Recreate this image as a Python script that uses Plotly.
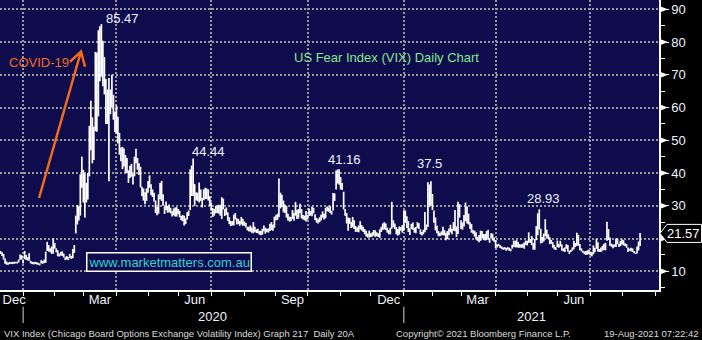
import pandas as pd
import plotly.graph_objects as go

# ---------------- data ----------------
holidays = ["2019-12-25", "2020-01-01", "2020-01-20", "2020-02-17", "2020-04-10",
            "2020-05-25", "2020-07-03", "2020-09-07", "2020-11-26", "2020-12-25",
            "2021-01-01", "2021-01-18", "2021-02-15", "2021-04-02", "2021-05-31",
            "2021-07-05"]
first_day = "2019-12-10"
last_day = "2021-08-18"

# daily high of the VIX, one line per month
high = [
    16.2, 15.8, 15.3, 13.9, 13.0, 12.6, 12.9, 12.8, 12.9, 12.9, 12.9, 12.9, 13.6, 15.1, 14.9,  # Dec 19
    13.6, 16.2, 15.0, 14.3, 15.5, 13.2, 12.9, 12.8, 12.9, 12.8, 12.6, 12.4, 13.4, 13.1, 13.6, 16.0, 19.0, 18.0, 17.0, 17.6, 20.0,  # Jan 20
    18.6, 17.0, 16.4, 15.4, 15.9, 16.1, 15.4, 14.3, 14.7, 14.3, 15.3, 14.7, 16.8, 18.0, 27.0, 30.2, 30.0, 39.6, 45.0,  # Feb
    41.0, 39.9, 37.0, 40.0, 54.4, 62.1, 57.0, 54.1, 77.0, 76.8, 83.6, 84.8, 85.47, 80.4, 75.4, 68.7, 65.5, 69.0, 65.5, 70.0, 63.9, 58.8,  # Mar
    60.6, 57.2, 52.3, 47.8, 48.0, 47.5, 45.5, 44.6, 40.8, 42.2, 42.8, 39.8, 45.0, 47.4, 44.6, 43.0, 41.9, 35.8, 35.3, 34.1, 35.3,  # Apr
    37.6, 39.3, 36.6, 35.0, 34.0, 31.6, 29.6, 33.5, 37.0, 37.6, 33.5, 29.8, 31.3, 30.0, 30.4, 29.4, 28.3, 29.2, 29.5, 29.6,  # May
    29.0, 28.5, 26.9, 27.2, 27.0, 26.2, 28.0, 28.6, 41.1, 42.3, 44.44, 36.6, 34.1, 34.0, 37.1, 35.0, 32.4, 35.0, 35.5, 35.3, 35.0, 32.9,  # Jun
    31.0, 29.3, 29.0, 30.0, 30.0, 30.3, 30.3, 32.6, 32.2, 29.0, 29.5, 28.0, 26.5, 25.4, 25.3, 27.3, 27.8, 26.2, 26.0, 25.4, 26.6, 26.0,  # Jul
    25.2, 24.8, 23.6, 23.6, 24.0, 23.4, 25.0, 23.6, 22.8, 23.0, 22.3, 22.4, 23.0, 24.0, 23.3, 23.0, 23.1, 24.5, 25.0, 24.3, 26.7,  # Aug
    27.1, 27.6, 38.3, 34.0, 33.4, 31.6, 30.4, 30.0, 27.6, 26.7, 26.6, 28.7, 27.9, 31.2, 28.8, 29.0, 30.6, 29.0, 27.2, 27.0, 28.4,  # Sep
    27.2, 29.2, 28.4, 29.8, 29.4, 27.4, 26.3, 25.9, 26.5, 27.3, 28.3, 27.6, 29.4, 29.8, 29.5, 30.0, 28.5, 33.9, 33.8, 40.8, 41.1, 41.16,  # Oct
    38.8, 37.0, 34.3, 29.0, 27.8, 26.4, 26.3, 25.1, 26.6, 25.6, 23.8, 23.4, 24.0, 25.3, 24.1, 23.6, 22.9, 22.4, 21.5, 22.4,  # Nov
    21.6, 21.9, 22.6, 22.5, 21.9, 21.6, 22.8, 23.6, 24.6, 25.0, 24.6, 23.3, 22.6, 23.3, 31.2, 25.6, 24.6, 23.5, 22.9, 23.7, 23.5, 24.1,  # Dec
    28.6, 28.6, 26.8, 25.3, 23.1, 24.5, 24.9, 23.3, 23.5, 25.0, 24.7, 22.8, 22.0, 22.7, 28.1, 24.3, 37.2, 36.5, 37.5,  # Jan 21
    33.6, 28.6, 26.4, 23.9, 22.3, 21.8, 22.2, 23.6, 22.6, 21.8, 22.3, 23.1, 24.2, 23.0, 25.0, 28.7, 23.7, 31.2, 30.5,  # Feb
    25.6, 24.9, 27.2, 31.0, 29.8, 27.6, 25.0, 24.4, 22.6, 22.4, 21.9, 20.5, 21.1, 22.4, 22.3, 21.4, 21.4, 22.3, 22.7, 20.1, 21.6, 21.5, 20.3,  # Mar
    19.5, 18.2, 18.4, 18.0, 17.6, 17.3, 17.4, 17.1, 17.4, 17.2, 16.9, 18.1, 19.4, 19.3, 19.5, 18.9, 18.3, 18.2, 18.4, 18.8, 19.4,  # Apr
    19.3, 21.9, 19.8, 20.8, 18.6, 19.9, 23.8, 27.7, 28.93, 23.0, 20.5, 21.5, 25.9, 22.7, 21.3, 20.4, 19.6, 18.9, 18.0, 17.4,  # May
    19.4, 18.3, 19.3, 18.2, 17.0, 17.3, 18.3, 18.0, 16.3, 16.6, 17.3, 19.3, 18.6, 21.8, 21.1, 18.3, 17.0, 16.3, 16.1, 16.2, 16.4, 16.6,  # Jun
    16.0, 15.8, 17.9, 17.1, 19.9, 18.9, 16.8, 17.3, 17.8, 18.4, 18.7, 25.1, 22.9, 20.3, 18.4, 18.2, 18.2, 20.0, 20.0, 18.4, 19.3,  # Jul
    19.8, 19.5, 18.6, 18.3, 17.3, 16.9, 17.2, 17.0, 16.2, 15.7, 17.6, 19.1, 21.7,  # Aug
]

# daily low of the VIX, one line per month
low = [
    15.3, 14.7, 13.6, 12.3, 12.0, 12.0, 12.2, 12.2, 12.2, 12.3, 12.4, 12.4, 12.7, 13.5, 13.6,  # Dec 19
    12.4, 13.7, 13.5, 13.3, 13.2, 12.4, 12.2, 12.1, 12.2, 12.1, 12.0, 11.8, 12.4, 12.3, 12.5, 12.6, 16.2, 16.0, 15.8, 15.3, 15.4,  # Jan 20
    16.9, 15.8, 14.6, 14.5, 14.8, 14.7, 14.2, 13.4, 13.6, 13.4, 14.1, 13.8, 14.0, 15.6, 21.6, 24.3, 25.5, 27.0, 35.5,  # Feb
    31.0, 26.4, 31.0, 31.9, 39.0, 47.0, 43.0, 44.0, 52.8, 52.6, 57.3, 68.0, 69.4, 66.5, 64.0, 55.0, 55.0, 37.5, 58.0, 60.0, 56.3, 52.5,  # Mar
    52.0, 49.0, 45.6, 43.6, 41.2, 42.0, 39.9, 40.0, 37.0, 38.5, 38.9, 36.5, 39.0, 43.0, 41.0, 39.4, 35.6, 32.9, 31.6, 30.5, 31.5,  # Apr
    34.0, 35.5, 33.2, 32.7, 31.3, 27.8, 27.1, 27.6, 32.0, 31.5, 30.0, 27.5, 28.7, 27.9, 28.0, 27.7, 26.7, 27.1, 26.7, 26.7,  # May
    27.4, 26.5, 25.6, 25.3, 24.0, 24.4, 25.8, 26.9, 28.7, 33.0, 33.0, 30.0, 31.7, 31.4, 31.0, 31.5, 29.5, 31.7, 32.0, 32.1, 31.6, 30.0,  # Jun
    28.5, 26.6, 27.0, 27.7, 27.8, 27.6, 27.0, 26.0, 28.9, 26.9, 27.2, 25.4, 24.4, 23.8, 24.0, 24.0, 25.8, 24.3, 24.4, 23.9, 24.3, 23.9,  # Jul
    23.9, 23.4, 22.5, 22.2, 22.1, 21.8, 21.6, 22.0, 21.7, 21.6, 21.2, 21.0, 21.2, 22.2, 21.5, 22.0, 21.8, 22.3, 22.6, 22.4, 23.3,  # Aug
    25.6, 25.7, 26.5, 29.2, 29.6, 28.0, 27.8, 26.4, 25.5, 25.2, 25.3, 26.0, 25.4, 27.0, 26.0, 26.1, 27.7, 26.2, 25.8, 25.6, 25.2,  # Sep
    25.8, 26.9, 27.0, 26.8, 27.7, 25.7, 24.9, 24.6, 25.0, 25.5, 26.4, 25.8, 26.2, 28.3, 28.2, 27.8, 27.3, 28.6, 31.5, 35.0, 36.8, 36.4,  # Oct
    35.0, 34.8, 28.9, 27.0, 24.6, 22.4, 24.5, 23.2, 23.4, 22.9, 22.0, 22.1, 21.9, 22.8, 22.4, 22.0, 21.3, 20.6, 20.3, 20.3,  # Nov
    20.4, 20.6, 20.9, 20.5, 20.7, 20.5, 20.2, 22.0, 22.6, 22.8, 22.6, 21.8, 21.3, 21.3, 23.0, 23.5, 22.9, 21.3, 20.9, 21.2, 22.4, 21.8,  # Dec
    22.4, 24.8, 23.2, 22.0, 21.1, 22.9, 22.7, 21.8, 21.6, 23.2, 22.9, 21.3, 20.9, 21.3, 21.9, 22.6, 23.5, 29.6, 30.0,  # Jan 21
    28.7, 24.8, 22.5, 21.6, 20.7, 20.7, 21.0, 21.0, 20.9, 19.5, 19.8, 21.0, 21.9, 21.3, 22.4, 22.2, 20.5, 21.4, 26.4,  # Feb
    22.9, 22.7, 23.7, 25.3, 24.6, 24.3, 22.9, 21.8, 21.5, 20.6, 19.7, 19.3, 18.9, 19.3, 20.1, 19.6, 19.4, 19.6, 19.7, 18.7, 20.1, 19.4, 19.0,  # Mar
    17.1, 17.3, 17.7, 17.1, 16.8, 16.6, 16.7, 16.3, 16.6, 16.3, 16.1, 16.9, 17.4, 17.3, 17.3, 17.2, 17.2, 17.2, 17.2, 16.9, 18.0,  # Apr
    17.9, 18.7, 18.7, 18.0, 16.6, 16.6, 19.5, 21.0, 22.8, 18.5, 18.7, 19.1, 20.7, 20.0, 19.9, 18.3, 18.4, 17.2, 16.7, 16.5,  # May
    17.4, 17.2, 17.6, 16.3, 16.1, 15.9, 16.9, 16.0, 15.3, 15.9, 16.3, 16.7, 17.4, 17.8, 17.8, 16.4, 16.1, 15.7, 15.2, 15.0, 15.1, 15.2,  # Jun
    14.8, 14.6, 15.2, 15.8, 16.9, 16.0, 15.9, 15.9, 16.3, 16.5, 16.4, 19.3, 19.6, 17.8, 17.5, 17.0, 17.4, 17.4, 18.3, 17.4, 17.7,  # Jul
    18.2, 17.9, 17.7, 17.2, 15.9, 16.3, 16.1, 15.9, 15.5, 15.3, 15.4, 16.4, 17.7,  # Aug
]

last_value = 21.57
peak_labels = ["85.47", "44.44", "41.16", "37.5", "28.93"]
y_ticks = [10, 20, 30, 40, 50, 60, 70, 80, 90]
month_labels = ["Dec", "Mar", "Jun", "Sep", "Dec", "Mar", "Jun"]
month_label_dates = ["2019-12-23", "2020-03-17", "2020-06-16", "2020-09-17",
                     "2020-12-17", "2021-03-16", "2021-06-16"]
year_labels = ["2020", "2021"]

# ---------------- build ----------------
hol = pd.to_datetime(holidays)
cal = pd.bdate_range("2019-12-01", "2021-09-30")
cal = cal[~cal.isin(hol)]
dates = cal[(cal >= pd.Timestamp(first_day)) & (cal <= pd.Timestamp(last_day))]
assert len(dates) == len(high) == len(low), (len(dates), len(high), len(low))

xs, ys = [], []
for d, h, l in zip(dates, high, low):
    xs += [d, d, None]
    ys += [l, h, None]

ser = pd.Series(cal, index=cal)
month_first = list(ser.groupby(cal.to_period("M")).min())
quarter_first = [d for d in month_first if d.month in (1, 4, 7, 10)]
year_first = [d for d in month_first if d.month == 1]

# the last-value tag hides the tick label it sits on
y_ticktext = ["" if abs(v - last_value) < 3 else str(v) for v in y_ticks]

axis_range = ["2019-12-09 15:00", "2021-09-03 14:00"]
rbreaks = [dict(bounds=["sat", "mon"]), dict(values=holidays)]

FONT = "Liberation Sans, Arial, sans-serif"
NAVY = "#0e0c4c"
GRID = "#9a9a9a"
LBL = "#eef2ff"

fig = go.Figure()
fig.add_trace(go.Scatter(x=xs, y=ys, mode="lines",
                         line=dict(color="white", width=1.7),
                         hoverinfo="skip", showlegend=False))

fig.update_layout(
    width=702, height=340,
    margin=dict(l=0, r=43, t=0, b=50, pad=0),
    paper_bgcolor="black", plot_bgcolor=NAVY,
    font=dict(family=FONT, size=13, color=LBL),
    showlegend=False,
    xaxis=dict(type="date", range=axis_range, rangebreaks=rbreaks,
               tickmode="array", tickvals=quarter_first, showticklabels=False,
               ticks="outside", ticklen=4, tickcolor="white", tickwidth=1,
               showgrid=True, gridcolor=GRID, griddash="2px,2px", gridwidth=2,
               showline=True, linecolor="white", linewidth=1.5, zeroline=False,
               minor=dict(tickmode="array", tickvals=month_first, ticks="outside",
                          ticklen=4, tickcolor="white", tickwidth=1, showgrid=False)),
    xaxis2=dict(type="date", range=axis_range, rangebreaks=rbreaks,
                overlaying="x", anchor="y", side="bottom",
                tickmode="array", tickvals=month_label_dates, ticktext=month_labels,
                ticks="", showgrid=False, showline=False, zeroline=False,
                tickfont=dict(family=FONT, size=13, color=LBL)),
    yaxis=dict(side="right", range=[4.29, 92.84], tickmode="array", tickvals=y_ticks,
               ticktext=y_ticktext,
               ticks="outside", ticklen=8, tickcolor="white", tickwidth=1,
               showgrid=True, gridcolor=GRID, griddash="2px,2px", gridwidth=2,
               showline=True, linecolor="white", linewidth=1.5, zeroline=False,
               tickfont=dict(family=FONT, size=13, color=LBL),
               minor=dict(dtick=5, tick0=0, ticks="outside", ticklen=4,
                          tickcolor="white", tickwidth=1, showgrid=False)),
)
# dummy invisible trace so the overlay axis is registered
fig.add_trace(go.Scatter(x=[dates[0]], y=[None], xaxis="x2", yaxis="y",
                         mode="markers", hoverinfo="skip", showlegend=False))

shapes = []
# right-axis tick pointers
for v in y_ticks:
    shapes.append(dict(type="path", xref="paper", yref="y",
                       path=f"M 1.0015 {v - 0.95} L 1.0015 {v + 0.95} L 1.0135 {v} Z",
                       fillcolor="white", line=dict(width=0), layer="above"))
# year separators below month labels
for d in year_first:
    shapes.append(dict(type="line", xref="x", yref="paper", x0=d, x1=d,
                       y0=-0.058, y1=-0.114, line=dict(color="#b4b4b4", width=1.2),
                       layer="above"))
# last-value tag
shapes.append(dict(type="path", xref="paper", yref="y",
                   path=(f"M 1.0015 {last_value} L 1.0121 {last_value + 2.75} "
                         f"L 1.0645 {last_value + 2.75} L 1.0645 {last_value - 2.75} "
                         f"L 1.0121 {last_value - 2.75} Z"),
                   fillcolor="black", line=dict(color="white", width=1), layer="above"))
# COVID arrow
ORANGE = "#f26b1d"
shapes.append(dict(type="path", xref="paper", yref="paper",
                   path="M 0.0592 0.3172 L 0.1229 0.8224 M 0.1062 0.7872 L 0.1229 0.8224 L 0.1290 0.7700",
                   line=dict(color=ORANGE, width=2.5)))
fig.update_layout(shapes=shapes)

anns = []
peak_pos = [(0.1859, 0.9379), (0.3171, 0.4793), (0.5235, 0.4483), (0.6525, 0.4345), (0.8247, 0.3138)]
for t, (px, py) in zip(peak_labels, peak_pos):
    anns.append(dict(text=t, x=px, y=py, xref="paper", yref="paper", showarrow=False,
                     xanchor="center", yanchor="middle", font=dict(size=13, color=LBL)))
anns.append(dict(text="US Fear Index (VIX) Daily Chart", x=0.5865, y=0.8034,
                 xref="paper", yref="paper", showarrow=False, xanchor="center",
                 yanchor="middle", font=dict(size=13, color="#86e890")))
anns.append(dict(text="COVID-19", x=0.0592, y=0.7828, xref="paper", yref="paper",
                 showarrow=False, xanchor="center", yanchor="middle",
                 font=dict(size=13, color=ORANGE)))
anns.append(dict(text="www.marketmatters.com.au", x=0.2557, y=0.0966, xref="paper",
                 yref="paper", showarrow=False, xanchor="center", yanchor="middle",
                 font=dict(size=13, color="#2fd3da"), bgcolor=NAVY,
                 bordercolor="white", borderwidth=1.5, borderpad=1))
anns.append(dict(text=f"{last_value:.2f}", x=1.0372, y=last_value, xref="paper", yref="y",
                 showarrow=False, xanchor="center", yanchor="middle",
                 font=dict(size=13, color="white")))
for t, px in zip(year_labels, [0.3225, 0.8058]):
    anns.append(dict(text=t, x=px, y=-0.0897, xref="paper", yref="paper", showarrow=False,
                     xanchor="center", yanchor="middle", font=dict(size=13, color=LBL)))
FOOT = dict(size=9.5, color="#dcdcdc", family=FONT)
anns.append(dict(text="VIX Index (Chicago Board Options Exchange Volatility Index) Graph 217  Daily 20A",
                 x=0.003, y=-0.1483, xref="paper", yref="paper", showarrow=False,
                 xanchor="left", yanchor="middle", font=FOOT))
anns.append(dict(text="Copyright© 2021 Bloomberg Finance L.P.", x=0.598, y=-0.1483,
                 xref="paper", yref="paper", showarrow=False, xanchor="left",
                 yanchor="middle", font=FOOT))
anns.append(dict(text="19-Aug-2021 07:22:42", x=1.0637, y=-0.1483, xref="paper",
                 yref="paper", showarrow=False, xanchor="right", yanchor="middle", font=FOOT))
fig.update_layout(annotations=anns)

fig.write_html("out.html")
